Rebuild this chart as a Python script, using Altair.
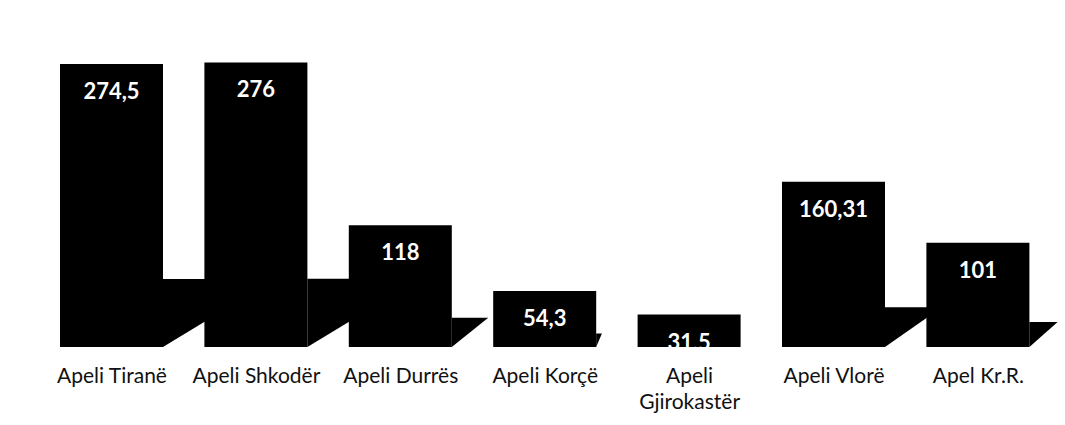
import json
import altair as alt
import pandas as pd

# Appeal courts and their values
categories = ["Apeli Tiranë", "Apeli Shkodër", "Apeli Durrës", "Apeli Korçë",
              "Apeli Gjirokastër", "Apeli Vlorë", "Apel Kr.R."]
values = [274.5, 276, 118, 54.3, 31.5, 160.31, 101]
value_labels = ["274,5", "276", "118", "54,3", "31,5", "160,31", "101"]
# axis label lines (long names wrap onto two lines)
label_lines = [["Apeli Tiranë"], ["Apeli Shkodër"], ["Apeli Durrës"], ["Apeli Korçë"],
               ["Apeli", "Gjirokastër"], ["Apeli Vlorë"], ["Apel Kr.R."]]

# layout of the canvas
W, PLOT_H, BOTTOM = 1065, 347, 78
STEP = 144.4                      # pixels between category centres
FIRST = 111.5                     # pixel centre of the first bar
HALF = 103 / STEP / 2             # bar half-width in x units
X0 = -FIRST / STEP
X1 = X0 + W / STEP
PX_PER_UNIT = 1.031
Y_MAX = PLOT_H / PX_PER_UNIT

bars = pd.DataFrame({
    "idx": list(range(len(categories))),
    "cat": categories,
    "value": values,
    "label": value_labels,
})
bars["x0"] = bars["idx"] - HALF
bars["x1"] = bars["idx"] + HALF

# drop shadow to the right of every bar: a wedge whose height follows the bar
rows = []
for i, (c, v) in enumerate(zip(categories, values)):
    s = 0.24 * v
    length_px = 1.95 * s * PX_PER_UNIT - 20.5
    if length_px <= 0:
        continue
    xr = i + HALF
    rows.append({"cat": c, "sx": xr, "top": s, "low": 0.0})
    rows.append({"cat": c, "sx": xr + length_px / STEP, "top": s, "low": s})
shadows = pd.DataFrame(rows)

x_scale = alt.Scale(domain=[X0, X1], nice=False, zero=False)
y_scale = alt.Scale(domain=[0, Y_MAX], nice=False, zero=True)
x_axis = alt.Axis(
    values=list(range(len(categories))),
    labelExpr=f"{json.dumps(label_lines, ensure_ascii=False)}[datum.value]",
    title=None, domain=False, ticks=False, tickSize=0, grid=False,
    labelFont="Lato", labelFontSize=21, labelColor="#111111",
    labelBaseline="top", labelPadding=18, labelLineHeight=26,
    labelOverlap=False, labelFlush=False,
)

shadow_layer = alt.Chart(shadows).mark_area(color="black", interpolate="linear").encode(
    x=alt.X("sx:Q", scale=x_scale, axis=x_axis),
    y=alt.Y("top:Q", scale=y_scale, stack=None, axis=None),
    y2="low:Q",
    detail="cat:N",
)

bar_layer = alt.Chart(bars).mark_rect(color="black").encode(
    x=alt.X("x0:Q", scale=x_scale, axis=x_axis),
    x2="x1:Q",
    y=alt.Y("value:Q", scale=y_scale, axis=None),
    y2=alt.datum(0),
)

text_layer = alt.Chart(bars).mark_text(
    color="white", font="Lato", fontSize=22, fontWeight="bold",
    baseline="alphabetic", align="center", dy=35,
).encode(
    x=alt.X("idx:Q", scale=x_scale, axis=x_axis),
    y=alt.Y("value:Q", scale=y_scale, axis=None),
    text="label:N",
)

chart = alt.layer(shadow_layer, bar_layer, text_layer).properties(
    width=W, height=PLOT_H,
    padding={"left": 0, "top": 0, "right": 0, "bottom": BOTTOM},
    autosize=alt.AutoSizeParams(type="none"),
    background="white",
).configure_view(stroke=None)

chart.save("out.html", embed_options={"renderer": "svg", "actions": False})
